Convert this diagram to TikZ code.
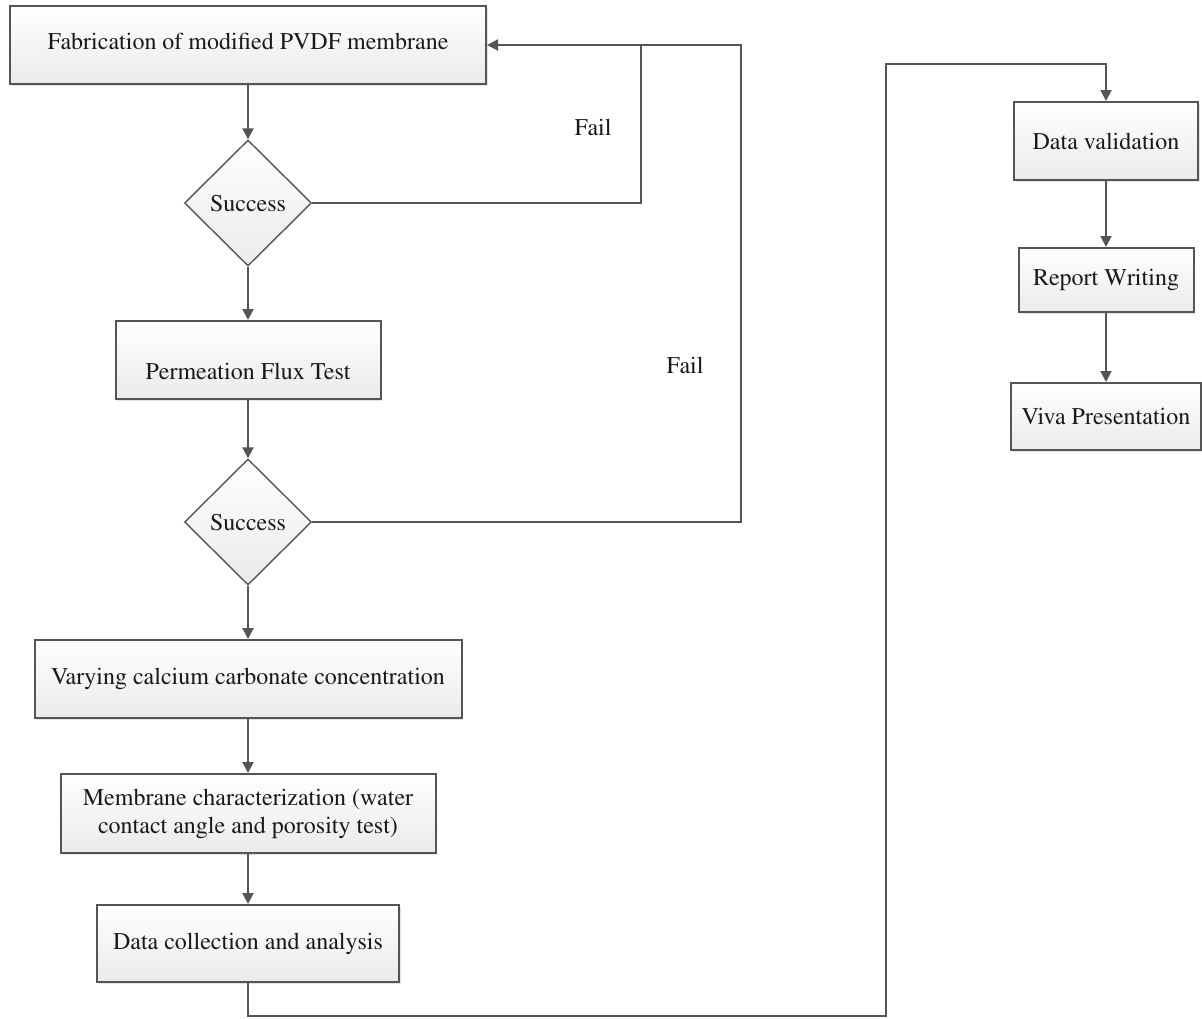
\documentclass[tikz,border=0pt]{standalone}
\usepackage[T1]{fontenc}
\renewcommand{\rmdefault}{ptm}
\usetikzlibrary{shapes.geometric,arrows.meta,shadows}
\definecolor{linegray}{HTML}{555555}
\begin{document}
\begin{tikzpicture}[x=1pt,y=-1pt,
  every node/.style={font=\rmfamily\fontsize{24}{28}\selectfont, text=black!90},
  boxstyle/.style={rectangle, draw=linegray, line width=2pt, inner sep=0pt,
    top color=white, bottom color=black!8, align=center,
    drop shadow={shadow xshift=1.5pt, shadow yshift=-1.5pt, opacity=0.2}},
  decision/.style={diamond, draw=linegray, line width=1.4pt, inner sep=0pt,
    top color=white, bottom color=black!8, minimum width=127pt, minimum height=126pt},
  conn/.style={draw=linegray, line width=2pt},
  arr/.style={conn, -{Triangle[length=11pt,width=11pt]}},
  faillabel/.style={inner sep=0pt}
]
\useasboundingbox (0,0) rectangle (1202,1018);
\fill[white] (0,0) rectangle (1202,1018);

\node[boxstyle, minimum width=476pt, minimum height=78pt, text height=14pt, text depth=6pt] (b1) at (248,45) {Fabrication of modified PVDF membrane};
\node[decision] (d1) at (248,203) {Success};
\node[boxstyle, minimum width=265pt, minimum height=78pt, text height=43pt, text depth=5pt] (b2) at (248,360) {Permeation Flux Test};
\node[decision] (d2) at (248,522) {Success};
\node[boxstyle, minimum width=427pt, minimum height=78pt] (b3) at (248,679) {Varying calcium carbonate concentration};
\node[boxstyle, minimum width=375pt, minimum height=79pt] (b4) at (248,813.5) {Membrane characterization (water\\contact angle and porosity test)};
\node[boxstyle, minimum width=302pt, minimum height=77pt] (b5) at (248,943.5) {Data collection and analysis};

\node[boxstyle, minimum width=184pt, minimum height=78pt] (dv) at (1106,141) {Data validation};
\node[boxstyle, minimum width=175pt, minimum height=64pt] (rw) at (1106,280) {Report Writing};
\node[boxstyle, minimum width=190pt, minimum height=67pt] (vp) at (1106,416.5) {Viva Presentation};

\node[faillabel] (fail1) at (593,127) {Fail};
\node[faillabel] (fail2) at (685,365) {Fail};

\coordinate (f1) at (641,45);
\coordinate (f2) at (741,45);
\coordinate (r1) at (886,1016);
\coordinate (r2) at (886,64);

\draw[arr] (b1.south) -- (d1.north);
\draw[arr] (d1.south) -- (b2.north);
\draw[arr] (b2.south) -- (d2.north);
\draw[arr] (d2.south) -- (b3.north);
\draw[arr] (b3.south) -- (b4.north);
\draw[arr] (b4.south) -- (b5.north);

\draw[arr] (d1.east) -| (f1) -- (b1.east);
\draw[conn] (d2.east) -| (f2) -- (f1);

\draw[arr] (b5.south) |- (r1) -- (r2) -| (dv.north);
\draw[arr] (dv.south) -- (rw.north);
\draw[arr] (rw.south) -- (vp.north);
\end{tikzpicture}
\end{document}
